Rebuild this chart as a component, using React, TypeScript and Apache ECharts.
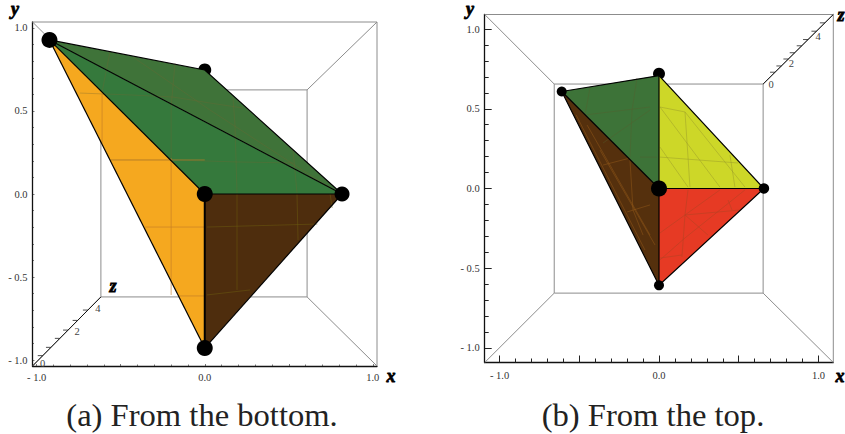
import React, { useEffect, useRef } from "react";
import * as echarts from "echarts";

type P = number[];

// ---------- Panel (a) values ----------
const aTL: P = [-0.924, 0.928];
const aBack: P = [0, 0.747];
const aRight: P = [0.817, 0];
const aCenter: P = [0, 0];
const aBottom: P = [0, -0.928];
const aFaces: P[][] = [
  [aTL, aBack, aRight],
  [aTL, aRight, aCenter],
  [aTL, aCenter, aBottom],
  [aCenter, aRight, aBottom],
];
const aFaceColors = ["#3f7339", "#35793c", "#f5a81f", "#4e2d0d"];
const aEdges: P[][] = [
  [aTL, aBack, aRight],
  [aTL, aRight],
  [aTL, aCenter],
  [aCenter, aRight],
  [aTL, aBottom],
  [aBottom, aRight],
];
const aThickEdges: P[][] = [[aCenter, aBottom]];
const aMeshGreen: P[][] = [
  [[-0.564, 0.855], [-0.611, 0.614]],
  [[-0.177, 0.789], [-0.2, 0.524], [-0.2, 0.217]],
  [[-0.743, 0.608], [-0.427, 0.596], [-0.189, 0.584], [0.031, 0.548], [0.228, 0.518]],
  [[-0.427, 0.825], [0.031, 0.506], [0.764, 0.024]],
  [[0.168, 0.584], [0.18, 0.416], [0.192, 0.006]],
  [[0.525, 0.265], [0.549, 0.006]],
  [[-0.558, 0.205], [-0.2, 0.205], [0, 0.199], [0.192, 0.193], [0.525, 0.187]],
];
const aMeshOrange: P[][] = [
  [[-0.611, 0.602], [-0.611, 0.307]],
  [[-0.558, 0.205], [0, 0.205]],
  [[-0.2, 0.217], [-0.2, -0.608]],
  [[-0.355, -0.199], [0, -0.199]],
  [[-0.159, -0.614], [0, -0.614]],
];
const aMeshBrown: P[][] = [
  [[0.192, 0], [0.192, -0.578]],
  [[0.549, 0], [0.555, -0.277]],
  [[0.013, -0.199], [0.67, -0.181]],
  [[0.013, -0.608], [0.27, -0.578]],
  [[0.746, 0], [0.758, -0.084]],
];
const aFrame = { xMin: -1.025, xMax: 1.025, yMin: -1.036, yMax: 1.036 };
const aInner = { xMin: -0.618, xMax: 0.609, yMin: -0.62, yMax: 0.627 };
const aFrontPoints: P[] = [aTL, aCenter, aRight, aBottom];
const aFrontSizes = [16, 16, 15, 16];
const aZTicks = [0.15, 0.27, 0.4, 0.52, 0.66, 0.81];
const aZLabels: [string, number][] = [["0", 0], ["2", 0.52], ["4", 0.81]];

// ---------- Panel (b) values ----------
const bTL: P = [-0.61, 0.608];
const bTop: P = [0, 0.708];
const bTopDot: P = [0, 0.72];
const bRight: P = [0.658, 0];
const bCenter: P = [0, 0];
const bBottom: P = [0, -0.607];
const bFaces: P[][] = [
  [bTL, bTop, bCenter],
  [bTop, bRight, bCenter],
  [bCenter, bRight, bBottom],
  [bTL, bCenter, bBottom],
];
const bFaceColors = ["#3d7338", "#cdd728", "#e63a24", "#55300d"];
const bEdges: P[][] = [
  [bTL, bTop, bRight, bBottom, bTL],
  [bTL, bCenter],
  [bTop, bCenter],
  [bRight, bCenter],
  [bCenter, bBottom],
];
const bMeshGreen: P[][] = [
  [[-0.433, 0.63], [-0.464, 0.461]],
  [[-0.138, 0.693], [-0.169, 0.492], [-0.182, 0.197]],
  [[-0.464, 0.461], [-0.056, 0.511]],
  [[-0.351, 0.285], [-0.056, 0.492]],
  [[-0.119, 0.197], [-0.013, 0.197]],
];
const bMeshYellow: P[][] = [
  [[0.006, 0.511], [0.194, 0.26], [0.382, 0.009]],
  [[0.006, 0.511], [0.163, 0.48], [0.182, 0.197], [0.194, 0.009]],
  [[0.006, 0.197], [0.495, 0.16]],
  [[0.445, 0.21], [0.476, 0.009]],
  [[0.163, 0.48], [0.539, 0.009]],
  [[0.006, 0.26], [0.182, 0.009]],
];
const bMeshRed: P[][] = [
  [[0.182, -0.009], [0.163, -0.166], [0.144, -0.429]],
  [[0.006, -0.279], [0.163, -0.166], [0.382, -0.009]],
  [[0.006, -0.448], [0.163, -0.31], [0.539, -0.009]],
  [[0.163, -0.166], [0.508, -0.135]],
  [[0.433, -0.072], [0.458, -0.135]],
  [[0.006, -0.436], [0.144, -0.417]],
  [[0.163, -0.166], [0.307, -0.292]],
];
const bMeshBrown: P[][] = [
  [[-0.52, 0.462], [-0.088, -0.386]],
  [[-0.451, 0.398], [-0.056, -0.292]],
  [[-0.37, 0.241], [-0.025, -0.354]],
  [[-0.351, 0.147], [-0.182, 0.191]],
  [[-0.2, -0.147], [-0.056, -0.103]],
  [[-0.182, 0.179], [-0.163, -0.135], [-0.1, -0.292]],
];
const bFrame = { xMin: -1.093, xMax: 1.093, yMin: -1.091, yMax: 1.091 };
const bInner = { xMin: -0.657, xMax: 0.653, yMin: -0.656, yMax: 0.655 };
const bFrontPoints: P[] = [bTL, bRight, bBottom, bCenter];
const bFrontSizes = [10, 10.5, 10, 16];
const bZTicks = [0.17, 0.26, 0.36, 0.45, 0.55, 0.64, 0.76, 0.88];
const bZLabels: [string, number][] = [["0", 0], ["2", 0.26], ["4", 0.64]];

// ---------- Ticks ----------
const majorTicks = [-1, -0.5, 0, 0.5, 1];
const minorTicks = [-0.9, -0.8, -0.7, -0.6, -0.4, -0.3, -0.2, -0.1, 0.1, 0.2, 0.3, 0.4, 0.6, 0.7, 0.8, 0.9];
const labelTicks = [-1, 0, 1];
const yLabelTicks = [-1, -0.5, 0, 0.5, 1];

const SERIF = "'Liberation Serif', 'DejaVu Serif', serif";

const fmt = (v: number) => (v < 0 ? `- ${Math.abs(v).toFixed(1)}` : v.toFixed(1));

function axisPair(
  kind: "x" | "y",
  min: number,
  max: number,
  gridIndex: number,
  majorLen: number,
  minorLen: number,
  margin: number,
  tickWidth: number
) {
  const base: any = {
    type: "value",
    min,
    max,
    gridIndex,
    position: kind === "x" ? "bottom" : "left",
    splitLine: { show: false },
    axisLine: { show: true, onZero: false, lineStyle: { color: "#111", width: 1.3 } },
  };
  return [
    {
      ...base,
      axisTick: { show: true, inside: true, length: majorLen, customValues: majorTicks, lineStyle: { color: "#222", width: tickWidth } },
      axisLabel: {
        show: true,
        margin,
        customValues: kind === "x" ? labelTicks : yLabelTicks,
        formatter: fmt,
        color: "#333",
        fontSize: 10.5,
        fontFamily: SERIF,
        hideOverlap: false,
      },
    },
    {
      ...base,
      axisLine: { show: false, onZero: false },
      axisTick: { show: true, inside: true, length: minorLen, customValues: minorTicks, lineStyle: { color: "#222", width: tickWidth } },
      axisLabel: { show: false },
    },
  ];
}

function linesSeries(lines: P[][], axisIdx: number, stroke: string, lineWidth: number, z: number) {
  return {
    type: "custom",
    coordinateSystem: "cartesian2d",
    xAxisIndex: axisIdx,
    yAxisIndex: axisIdx,
    z,
    silent: true,
    clip: false,
    data: lines.map((_, i) => [i]),
    renderItem: (params: any, api: any) => ({
      type: "polyline",
      shape: { points: lines[params.dataIndex].map((p) => api.coord(p)) },
      style: { stroke, fill: "none", lineWidth },
    }),
  };
}

function facesSeries(faces: P[][], colors: string[], axisIdx: number, z: number) {
  return {
    type: "custom",
    coordinateSystem: "cartesian2d",
    xAxisIndex: axisIdx,
    yAxisIndex: axisIdx,
    z,
    silent: true,
    clip: false,
    data: faces.map((_, i) => [i]),
    renderItem: (params: any, api: any) => ({
      type: "polygon",
      shape: { points: faces[params.dataIndex].map((p) => api.coord(p)) },
      style: { fill: colors[params.dataIndex], stroke: "none" },
    }),
  };
}

function dotsSeries(points: P[], sizes: number[], axisIdx: number, z: number) {
  return {
    type: "scatter",
    xAxisIndex: axisIdx,
    yAxisIndex: axisIdx,
    z,
    silent: true,
    clip: false,
    symbol: "circle",
    symbolSize: (_: any, params: any) => sizes[params.dataIndex],
    itemStyle: { color: "#000", opacity: 1 },
    data: points,
  };
}

function zAxisSeries(
  from: P,
  to: P,
  ticks: number[],
  labels: [string, number][],
  offsets: number[][],
  axisIdx: number,
  z: number
) {
  const lerp = (t: number): P => [from[0] + (to[0] - from[0]) * t, from[1] + (to[1] - from[1]) * t];
  return {
    type: "custom",
    coordinateSystem: "cartesian2d",
    xAxisIndex: axisIdx,
    yAxisIndex: axisIdx,
    z,
    silent: true,
    clip: false,
    data: [[0]],
    renderItem: (_: any, api: any) => {
      const children: any[] = [
        { type: "line", shape: { x1: api.coord(from)[0], y1: api.coord(from)[1], x2: api.coord(to)[0], y2: api.coord(to)[1] }, style: { stroke: "#111", lineWidth: 1 } },
      ];
      ticks.forEach((t) => {
        const c = api.coord(lerp(t));
        children.push({ type: "line", shape: { x1: c[0] - 5, y1: c[1], x2: c[0], y2: c[1] }, style: { stroke: "#222", lineWidth: 0.8 } });
      });
      labels.forEach(([text, t], i) => {
        const c = api.coord(lerp(t));
        children.push({
          type: "text",
          x: c[0] + offsets[i][0],
          y: c[1] + offsets[i][1],
          style: { text, fontFamily: SERIF, fontSize: 10.5, fill: "#444", align: "center", verticalAlign: "middle" },
        });
      });
      return { type: "group", children };
    },
  };
}

function boxLines(f: typeof aFrame, inner: typeof aInner): P[][] {
  return [
    [[f.xMin, f.yMax], [f.xMax, f.yMax], [f.xMax, f.yMin]],
    [[f.xMin, f.yMax], [inner.xMin, inner.yMax]],
    [[f.xMax, f.yMax], [inner.xMax, inner.yMax]],
    [[f.xMin, f.yMin], [inner.xMin, inner.yMin]],
    [[f.xMax, f.yMin], [inner.xMax, inner.yMin]],
    [[inner.xMin, inner.yMin], [inner.xMax, inner.yMin], [inner.xMax, inner.yMax], [inner.xMin, inner.yMax], [inner.xMin, inner.yMin]],
  ];
}

function axisLetter(text: string, x: number, y: number) {
  return {
    type: "text",
    x,
    y,
    style: {
      text,
      fontFamily: SERIF,
      fontSize: 18,
      fontStyle: "italic",
      fontWeight: "bold",
      fill: "#000",
      stroke: "#000",
      lineWidth: 0.8,
      align: "center",
      verticalAlign: "middle",
    },
  };
}

function caption(text: string, x: number) {
  return {
    type: "text",
    x,
    y: 415,
    style: { text, fontFamily: SERIF, fontSize: 32.6, fill: "#222", align: "center", verticalAlign: "middle" },
  };
}

export default function App() {
  const ref = useRef<HTMLDivElement>(null);
  useEffect(() => {
    const chart = echarts.init(ref.current!, undefined, { renderer: "svg" });
    const ax = axisPair("x", aFrame.xMin, aFrame.xMax, 0, 2, 1.5, 6, 0.6);
    const ay = axisPair("y", aFrame.yMin, aFrame.yMax, 0, 2, 1.5, 5, 0.6);
    const bx = axisPair("x", bFrame.xMin, bFrame.xMax, 1, 7, 4, 7, 1);
    const by = axisPair("y", bFrame.yMin, bFrame.yMax, 1, 7, 4, 5, 1);
    chart.setOption({
      animation: false,
      backgroundColor: "#fff",
      grid: [
        { left: 32.5, top: 22, width: 344.5, height: 344, containLabel: false },
        { left: 484.7, top: 14.5, width: 348.6, height: 348, containLabel: false },
      ],
      xAxis: [...ax, ...bx],
      yAxis: [...ay, ...by],
      series: [
        linesSeries(boxLines(aFrame, aInner), 0, "#8c8c8c", 1, 1),
        dotsSeries([aBack], [13], 0, 2),
        facesSeries(aFaces, aFaceColors, 0, 3),
        linesSeries(aMeshGreen, 0, "rgba(115,100,50,0.55)", 0.6, 4),
        linesSeries(aMeshOrange, 0, "rgba(195,125,40,0.8)", 0.8, 4),
        linesSeries(aMeshBrown, 0, "rgba(110,95,15,0.8)", 0.6, 4),
        linesSeries(aEdges, 0, "#000", 1.2, 5),
        linesSeries(aThickEdges, 0, "#000", 2, 5),
        zAxisSeries([aFrame.xMin, aFrame.yMin], [aInner.xMin, aInner.yMin], aZTicks, aZLabels, [[10, -3], [9, 1], [10, -2]], 0, 5),
        dotsSeries(aFrontPoints, aFrontSizes, 0, 6),

        linesSeries(boxLines(bFrame, bInner), 2, "#8c8c8c", 1, 1),
        dotsSeries([bTopDot], [12], 2, 2),
        facesSeries(bFaces, bFaceColors, 2, 3),
        linesSeries(bMeshGreen, 2, "rgba(85,95,45,0.7)", 0.6, 4),
        linesSeries(bMeshYellow, 2, "rgba(150,150,40,0.75)", 0.6, 4),
        linesSeries(bMeshRed, 2, "rgba(185,65,35,0.9)", 0.7, 4),
        linesSeries(bMeshBrown, 2, "rgba(150,90,25,0.8)", 0.6, 4),
        linesSeries(bEdges, 2, "#000", 1.2, 5),
        zAxisSeries([bInner.xMax, bInner.yMax], [bFrame.xMax, bFrame.yMax], bZTicks, bZLabels, [[8, 0], [10, -2], [10, -3]], 2, 5),
        dotsSeries(bFrontPoints, bFrontSizes, 2, 6),
      ],
      graphic: [
        axisLetter("y", 15, 9),
        axisLetter("x", 391, 376),
        axisLetter("z", 113, 286),
        axisLetter("y", 470, 9),
        axisLetter("x", 840, 376),
        axisLetter("z", 841, 15),
        caption("(a) From the bottom.", 202),
        caption("(b) From the top.", 653),
      ],
    });
    return () => chart.dispose();
  }, []);
  return <div ref={ref} style={{ position: "absolute", left: 0, top: 0, width: 845, height: 434 }} />;
}
